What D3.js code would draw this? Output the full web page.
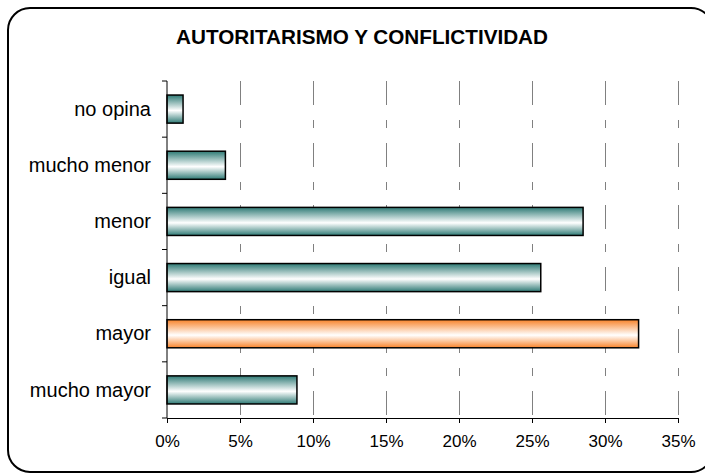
<!DOCTYPE html>
<html>
<head>
<meta charset="utf-8">
<script src="https://cdn.jsdelivr.net/npm/d3@7"></script>
<style>
  body { margin: 0; background: #fff; }
  text { font-family: "Liberation Sans", Arial, sans-serif; }
</style>
</head>
<body>
<svg width="705" height="474"></svg>
<script>
const categories = ["no opina", "mucho menor", "menor", "igual", "mayor", "mucho mayor"];
const values = [1.1, 4.0, 28.5, 25.6, 32.3, 8.9];
const highlight = ["mayor"];
const ticks = [0, 5, 10, 15, 20, 25, 30, 35];

const svg = d3.select("svg");
const width = +svg.attr("width");
const height = +svg.attr("height");
const margin = { top: 81, right: 27, bottom: 56, left: 167 };

const data = categories.map((c, i) => ({ name: c, value: values[i] }));

// frame
svg.append("rect")
  .attr("x", 8).attr("y", 8)
  .attr("width", 705).attr("height", 464)
  .attr("rx", 22).attr("ry", 22)
  .attr("fill", "#fff")
  .attr("stroke", "#000")
  .attr("stroke-width", 2);

svg.append("text")
  .attr("x", 362).attr("y", 44)
  .attr("text-anchor", "middle")
  .attr("font-size", 20.7)
  .attr("font-weight", "bold")
  .text("AUTORITARISMO Y CONFLICTIVIDAD");

const defs = svg.append("defs");
function grad(id, col) {
  const g = defs.append("linearGradient").attr("id", id)
    .attr("x1", 0).attr("y1", 0).attr("x2", 0).attr("y2", 1);
  g.append("stop").attr("offset", "0%").attr("stop-color", col);
  g.append("stop").attr("offset", "55%").attr("stop-color", "#ffffff");
  g.append("stop").attr("offset", "100%").attr("stop-color", col);
}
grad("teal", "#2e7a75");
grad("orange", "#f8832a");

const x = d3.scaleLinear()
  .domain([0, 35])
  .range([margin.left, width - margin.right]);
const y = d3.scaleBand()
  .domain(categories)
  .range([margin.top, height - margin.bottom])
  .paddingInner(0.5)
  .paddingOuter(0.25);

const yTop = margin.top, yBot = height - margin.bottom;

// gridlines
svg.append("g")
  .selectAll("line")
  .data(ticks.slice(1))
  .join("line")
  .attr("x1", d => Math.round(x(d)) + 0.5)
  .attr("x2", d => Math.round(x(d)) + 0.5)
  .attr("y1", yTop)
  .attr("y2", yBot)
  .attr("stroke", "#808080")
  .attr("stroke-width", 1)
  .attr("stroke-dasharray", "24,15,8,15");

// bars
svg.append("g")
  .selectAll("rect")
  .data(data)
  .join("rect")
  .attr("x", x(0))
  .attr("y", d => y(d.name))
  .attr("width", d => x(d.value) - x(0))
  .attr("height", y.bandwidth())
  .attr("fill", d => highlight.includes(d.name) ? "url(#orange)" : "url(#teal)")
  .attr("stroke", "#000")
  .attr("stroke-width", 1.5);

// x axis
const xAxis = svg.append("g")
  .attr("transform", `translate(0,${yBot})`)
  .call(d3.axisBottom(x).tickValues(ticks).tickFormat(d => d + "%").tickSize(5).tickSizeOuter(0));
xAxis.select(".domain").attr("stroke", "#000");
xAxis.selectAll("text")
  .attr("font-size", 17)
  .attr("font-family", "Liberation Sans, Arial, sans-serif")
  .attr("fill", "#000")
  .attr("dy", "1.25em");

// y axis
const yBoundaries = d3.range(categories.length + 1);
const yStep = (yBot - yTop) / categories.length;
const yAxis = svg.append("g");
yAxis.append("line")
  .attr("x1", x(0)).attr("x2", x(0))
  .attr("y1", yTop).attr("y2", yBot)
  .attr("stroke", "#000");
yAxis.selectAll("line.tick")
  .data(yBoundaries)
  .join("line")
  .attr("class", "tick")
  .attr("x1", x(0) - 5).attr("x2", x(0))
  .attr("y1", i => yTop + i * yStep)
  .attr("y2", i => yTop + i * yStep)
  .attr("stroke", "#000");
yAxis.selectAll("text")
  .data(categories)
  .join("text")
  .attr("x", x(0) - 16)
  .attr("y", d => y(d) + y.bandwidth() / 2)
  .attr("dy", "0.33em")
  .attr("text-anchor", "end")
  .attr("font-size", 20)
  .text(d => d);
</script>
</body>
</html>
